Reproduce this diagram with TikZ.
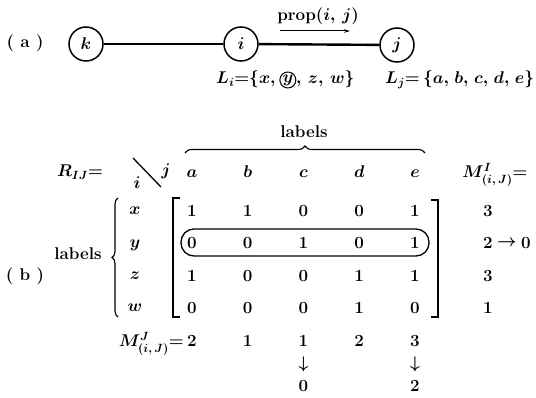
\documentclass[tikz,border=0pt]{standalone}
\usepackage{fix-cm}
\usepackage{amsmath}
\usepackage{bm}
\usetikzlibrary{decorations.pathreplacing,arrows.meta}
\begin{document}
\begin{tikzpicture}[x=1pt,y=-1pt,
  font=\fontsize{17}{20}\selectfont\bfseries\boldmath,
  vert/.style={circle,draw,line width=1.5pt,minimum size=34pt,inner sep=0pt},
  txt/.style={inner sep=0pt},
  lbl/.style={inner sep=0pt,anchor=base},
  bracketline/.style={line width=1.2pt},
  bracedeco/.style={decorate,decoration={brace,amplitude=7pt},line width=1.1pt}]
\useasboundingbox (0,0) rectangle (536,398);
% part (a)
\node[txt] (pa) at (25,43) {( a )};
\node[vert] (k) at (86,44) {$k$};
\node[vert] (i) at (241,44) {$i$};
\node[vert] (j) at (397,45) {$j$};
\draw[line width=1.4pt] (k) -- (i);
\draw[line width=2.4pt] (i) -- (j);
\node[txt] (prop) at (318,16) {prop$(i,\,j)$};
\coordinate (ps) at (280,31);
\coordinate (pe) at (350,31);
\draw[line width=1pt,-{Stealth[length=6pt,width=3.5pt]}] (ps) -- (pe);
\node[lbl,anchor=base west] (Li1) at (216,84) {$L_i{=}\{x,$};
\node[circle,draw,line width=1pt,inner sep=0pt,minimum size=16pt] (yc)
  at ([xshift=12pt,yshift=4pt]Li1.base east) {$y$};
\node[lbl,anchor=base west] (Li2) at ([xshift=20pt]Li1.base east) {$,\,z,\,w\}$};
\node[lbl,anchor=base west] (Lj) at (385,84) {$L_j{=}\,\{a,\mkern2mu b,\mkern2mu c,\mkern2mu d,\mkern2mu e\}$};
% part (b)
\node[txt] (labtop) at (304,132) {labels};
\coordinate (bt1) at (185,153);
\coordinate (bt2) at (425,153);
\draw[bracedeco] (bt1) -- (bt2);
\node[lbl] (R) at (80,177) {$R_{IJ}{=}$};
\coordinate (d1) at (133,158);
\coordinate (d2) at (161,187);
\draw[line width=1.3pt] (d1) -- (d2);
\node[lbl] (di) at (137,189) {$i$};
\node[lbl] (dj) at (166,176) {$j$};
\node[lbl] (ha) at (192,178) {$a$};
\node[lbl] (hb) at (247.75,178) {$b$};
\node[lbl] (hc) at (303.5,178) {$c$};
\node[lbl] (hd) at (359.25,178) {$d$};
\node[lbl] (he) at (415,178) {$e$};
\node[lbl] (MI) at (495,178) {$M^{I}_{(i,\,J)}{=}$};
% row labels
\node[lbl] (rx) at (135,215) {$x$};
\node[lbl] (ry) at (135,248) {$y$};
\node[lbl] (rz) at (135,280) {$z$};
\node[lbl] (rw) at (135,312) {$w$};
\coordinate (lb1) at (118,317);
\coordinate (lb2) at (118,198);
\draw[bracedeco,decoration={brace,amplitude=6pt}] (lb1) -- (lb2);
\node[txt] (lab) at (78,254) {labels};
\node[txt] (pb) at (25,276) {( b )};
% brackets
\coordinate (L1) at (180,198); \coordinate (L2) at (173,198);
\coordinate (L3) at (173,317); \coordinate (L4) at (180,317);
\draw[bracketline] (L1) -- (L2) -- (L3) -- (L4);
\coordinate (R1) at (431,200); \coordinate (R2) at (438,200);
\coordinate (R3) at (438,317); \coordinate (R4) at (431,317);
\draw[bracketline] (R1) -- (R2) -- (R3) -- (R4);
% matrix entries
\node[txt] (m11) at (192,211) {1};
\node[txt] (m12) at (247.75,211) {1};
\node[txt] (m13) at (303.5,211) {0};
\node[txt] (m14) at (359.25,211) {0};
\node[txt] (m15) at (415,211) {1};
\node[txt] (m21) at (192,243) {0};
\node[txt] (m22) at (247.75,243) {0};
\node[txt] (m23) at (303.5,243) {1};
\node[txt] (m24) at (359.25,243) {0};
\node[txt] (m25) at (415,243) {1};
\node[txt] (m31) at (192,276) {1};
\node[txt] (m32) at (247.75,276) {0};
\node[txt] (m33) at (303.5,276) {0};
\node[txt] (m34) at (359.25,276) {1};
\node[txt] (m35) at (415,276) {1};
\node[txt] (m41) at (192,308) {0};
\node[txt] (m42) at (247.75,308) {0};
\node[txt] (m43) at (303.5,308) {0};
\node[txt] (m44) at (359.25,308) {1};
\node[txt] (m45) at (415,308) {0};
% circled row
\coordinate (c1) at (181,229);
\coordinate (c2) at (429,256);
\draw[line width=1.3pt,rounded corners=13pt] (c1) rectangle (c2);
% right column
\node[txt] (s1) at (488,211) {3};
\node[txt] (s2) at (488,243) {2};
\node[txt] (s2a) at (507,243) {$\rightarrow$};
\node[txt] (s2b) at (526,243) {0};
\node[txt] (s3) at (488,276) {3};
\node[txt] (s4) at (488,308) {1};
% bottom row
\node[lbl,anchor=base east] (MJ) at (184,347) {$M^{J}_{(i,\,J)}{=}$};
\node[txt] (t1) at (192,341) {2};
\node[txt] (t2) at (247.75,341) {1};
\node[txt] (t3) at (303.5,341) {1};
\node[txt] (t4) at (359.25,341) {2};
\node[txt] (t5) at (415,341) {3};
\node[txt] (a3) at (303.5,364) {$\downarrow$};
\node[txt] (a5) at (415,364) {$\downarrow$};
\node[txt] (u3) at (303.5,386) {0};
\node[txt] (u5) at (415,386) {2};
\end{tikzpicture}
\end{document}
